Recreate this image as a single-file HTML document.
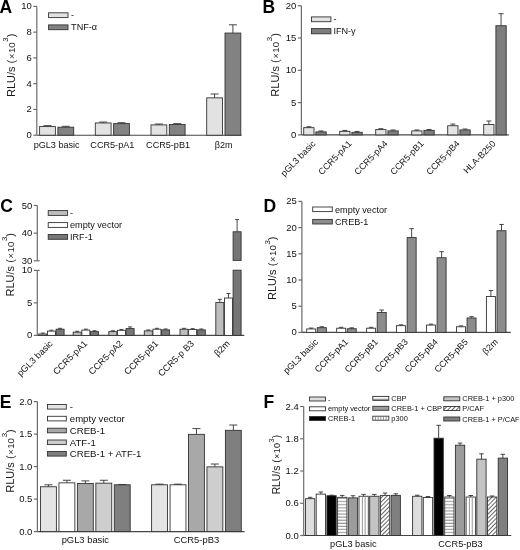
<!DOCTYPE html>
<html><head><meta charset="utf-8"><title>Figure</title>
<style>html,body{margin:0;padding:0;background:#fff;}body{width:520px;height:550px;overflow:hidden;font-family:"Liberation Sans", sans-serif;}</style>
</head><body>
<svg width="520" height="550" viewBox="0 0 520 550" style="display:block;will-change:transform;font-family:'Liberation Sans', sans-serif">
<defs>
<pattern id="hs" patternUnits="userSpaceOnUse" width="4" height="3.1"><rect width="4" height="3.1" fill="#fff"/><rect y="2.0" width="4" height="1.0" fill="#8a8a8a"/></pattern>
<pattern id="vs" patternUnits="userSpaceOnUse" width="3.4" height="4"><rect width="3.4" height="4" fill="#fff"/><rect x="2.6" width="0.9" height="4" fill="#888"/></pattern>
<pattern id="dh" patternUnits="userSpaceOnUse" width="3" height="3" patternTransform="rotate(45)"><rect width="3" height="3" fill="#fff"/><rect width="0.9" height="3" fill="#555"/></pattern>
</defs>
<rect width="520" height="550" fill="#fff"/>
<text x="-0.5" y="12.5" font-size="17.5" text-anchor="start" font-weight="bold" fill="#000">A</text>
<text x="15" y="65.3" font-size="11" text-anchor="middle" fill="#1a1a1a" transform="rotate(-90 15 65.3)">RLU/s (<tspan font-size="9.02" dx="0.77">&#215;</tspan><tspan font-size="9.68" dx="0.66">10</tspan><tspan font-size="7.92" dx="0.66" dy="-6.6">3</tspan><tspan dy="6.6">)</tspan></text>
<line x1="36.8" y1="6.4" x2="36.8" y2="135.2" stroke="#6c6c6c" stroke-width="1.2"/>
<line x1="33.3" y1="135.2" x2="36.8" y2="135.2" stroke="#6c6c6c" stroke-width="1.2"/>
<text x="31.8" y="138.24" font-size="9.5" text-anchor="end" font-weight="normal" fill="#111">0</text>
<line x1="33.3" y1="109.44" x2="36.8" y2="109.44" stroke="#6c6c6c" stroke-width="1.2"/>
<text x="31.8" y="112.48" font-size="9.5" text-anchor="end" font-weight="normal" fill="#111">2</text>
<line x1="33.3" y1="83.68" x2="36.8" y2="83.68" stroke="#6c6c6c" stroke-width="1.2"/>
<text x="31.8" y="86.72" font-size="9.5" text-anchor="end" font-weight="normal" fill="#111">4</text>
<line x1="33.3" y1="57.92" x2="36.8" y2="57.92" stroke="#6c6c6c" stroke-width="1.2"/>
<text x="31.8" y="60.96" font-size="9.5" text-anchor="end" font-weight="normal" fill="#111">6</text>
<line x1="33.3" y1="32.16" x2="36.8" y2="32.16" stroke="#6c6c6c" stroke-width="1.2"/>
<text x="31.8" y="35.2" font-size="9.5" text-anchor="end" font-weight="normal" fill="#111">8</text>
<line x1="33.3" y1="6.4" x2="36.8" y2="6.4" stroke="#6c6c6c" stroke-width="1.2"/>
<text x="31.8" y="9.44" font-size="9.5" text-anchor="end" font-weight="normal" fill="#111">10</text>
<line x1="36.8" y1="135.2" x2="241.6" y2="135.2" stroke="#484848" stroke-width="1.1"/>
<rect x="39.6" y="126.57" width="15.8" height="8.63" fill="#e2e2e2" stroke="#333" stroke-width="0.9"/>
<line x1="47.5" y1="126.57" x2="47.5" y2="125.67" stroke="#333" stroke-width="0.9"/>
<line x1="43.5" y1="125.67" x2="51.5" y2="125.67" stroke="#333" stroke-width="0.9"/>
<rect x="57.9" y="127.21" width="15.8" height="7.99" fill="#828282" stroke="#333" stroke-width="0.9"/>
<line x1="65.8" y1="127.21" x2="65.8" y2="126.31" stroke="#333" stroke-width="0.9"/>
<line x1="61.8" y1="126.31" x2="69.8" y2="126.31" stroke="#333" stroke-width="0.9"/>
<text x="56.65" y="147.5" font-size="9.1" text-anchor="middle" font-weight="normal" fill="#111">pGL3 basic</text>
<rect x="95.3" y="122.96" width="15.8" height="12.24" fill="#e2e2e2" stroke="#333" stroke-width="0.9"/>
<line x1="103.2" y1="122.96" x2="103.2" y2="122.06" stroke="#333" stroke-width="0.9"/>
<line x1="99.2" y1="122.06" x2="107.2" y2="122.06" stroke="#333" stroke-width="0.9"/>
<rect x="113.6" y="123.61" width="15.8" height="11.59" fill="#828282" stroke="#333" stroke-width="0.9"/>
<line x1="121.5" y1="123.61" x2="121.5" y2="122.71" stroke="#333" stroke-width="0.9"/>
<line x1="117.5" y1="122.71" x2="125.5" y2="122.71" stroke="#333" stroke-width="0.9"/>
<text x="112.35" y="147.5" font-size="9.1" text-anchor="middle" font-weight="normal" fill="#111">CCR5-pA1</text>
<rect x="151" y="124.9" width="15.8" height="10.3" fill="#e2e2e2" stroke="#333" stroke-width="0.9"/>
<line x1="158.9" y1="124.9" x2="158.9" y2="124" stroke="#333" stroke-width="0.9"/>
<line x1="154.9" y1="124" x2="162.9" y2="124" stroke="#333" stroke-width="0.9"/>
<rect x="169.3" y="124.51" width="15.8" height="10.69" fill="#828282" stroke="#333" stroke-width="0.9"/>
<line x1="177.2" y1="124.51" x2="177.2" y2="123.61" stroke="#333" stroke-width="0.9"/>
<line x1="173.2" y1="123.61" x2="181.2" y2="123.61" stroke="#333" stroke-width="0.9"/>
<text x="168.05" y="147.5" font-size="9.1" text-anchor="middle" font-weight="normal" fill="#111">CCR5-pB1</text>
<rect x="206.7" y="97.85" width="15.8" height="37.35" fill="#e2e2e2" stroke="#333" stroke-width="0.9"/>
<line x1="214.6" y1="97.85" x2="214.6" y2="93.98" stroke="#333" stroke-width="0.9"/>
<line x1="210.6" y1="93.98" x2="218.6" y2="93.98" stroke="#333" stroke-width="0.9"/>
<rect x="225" y="33.06" width="15.8" height="102.14" fill="#828282" stroke="#333" stroke-width="0.9"/>
<line x1="232.9" y1="33.06" x2="232.9" y2="24.82" stroke="#333" stroke-width="0.9"/>
<line x1="228.9" y1="24.82" x2="236.9" y2="24.82" stroke="#333" stroke-width="0.9"/>
<text x="223.75" y="147.5" font-size="9.1" text-anchor="middle" font-weight="normal" fill="#111">&#946;2m</text>
<rect x="48.6" y="12.8" width="19.4" height="4.8" fill="#e2e2e2" stroke="#333" stroke-width="0.9"/>
<rect x="48.6" y="24.9" width="19.4" height="4.8" fill="#828282" stroke="#333" stroke-width="0.9"/>
<text x="71.1" y="18.2" font-size="9.1" text-anchor="start" font-weight="normal" fill="#111">-</text>
<text x="71.1" y="29.9" font-size="9.1" text-anchor="start" font-weight="normal" fill="#111">TNF-&#945;</text>
<text x="262.5" y="12.7" font-size="17.5" text-anchor="start" font-weight="bold" fill="#000">B</text>
<text x="279" y="64.9" font-size="11" text-anchor="middle" fill="#1a1a1a" transform="rotate(-90 279 64.9)">RLU/s (<tspan font-size="9.02" dx="0.77">&#215;</tspan><tspan font-size="9.68" dx="0.66">10</tspan><tspan font-size="7.92" dx="0.66" dy="-6.6">3</tspan><tspan dy="6.6">)</tspan></text>
<line x1="301.4" y1="5.7" x2="301.4" y2="134.9" stroke="#6c6c6c" stroke-width="1.2"/>
<line x1="297.9" y1="134.9" x2="301.4" y2="134.9" stroke="#6c6c6c" stroke-width="1.2"/>
<text x="296.4" y="137.94" font-size="9.5" text-anchor="end" font-weight="normal" fill="#111">0</text>
<line x1="297.9" y1="102.6" x2="301.4" y2="102.6" stroke="#6c6c6c" stroke-width="1.2"/>
<text x="296.4" y="105.64" font-size="9.5" text-anchor="end" font-weight="normal" fill="#111">5</text>
<line x1="297.9" y1="70.3" x2="301.4" y2="70.3" stroke="#6c6c6c" stroke-width="1.2"/>
<text x="296.4" y="73.34" font-size="9.5" text-anchor="end" font-weight="normal" fill="#111">10</text>
<line x1="297.9" y1="38" x2="301.4" y2="38" stroke="#6c6c6c" stroke-width="1.2"/>
<text x="296.4" y="41.04" font-size="9.5" text-anchor="end" font-weight="normal" fill="#111">15</text>
<line x1="297.9" y1="5.7" x2="301.4" y2="5.7" stroke="#6c6c6c" stroke-width="1.2"/>
<text x="296.4" y="8.74" font-size="9.5" text-anchor="end" font-weight="normal" fill="#111">20</text>
<line x1="301.4" y1="134.9" x2="508.8" y2="134.9" stroke="#484848" stroke-width="1.1"/>
<rect x="303.7" y="127.66" width="10.3" height="7.24" fill="#e4e4e4" stroke="#333" stroke-width="0.9"/>
<line x1="308.85" y1="127.66" x2="308.85" y2="126.76" stroke="#333" stroke-width="0.9"/>
<line x1="306.35" y1="126.76" x2="311.35" y2="126.76" stroke="#333" stroke-width="0.9"/>
<rect x="315.9" y="131.86" width="10.3" height="3.04" fill="#7e7e7e" stroke="#333" stroke-width="0.9"/>
<line x1="321.05" y1="131.86" x2="321.05" y2="130.96" stroke="#333" stroke-width="0.9"/>
<line x1="318.55" y1="130.96" x2="323.55" y2="130.96" stroke="#333" stroke-width="0.9"/>
<text x="316.15" y="144.2" font-size="9" text-anchor="end" font-weight="normal" fill="#111" transform="rotate(-46 316.15 144.2)">pGL3 basic</text>
<rect x="339.7" y="131.35" width="10.3" height="3.55" fill="#e4e4e4" stroke="#333" stroke-width="0.9"/>
<line x1="344.85" y1="131.35" x2="344.85" y2="130.45" stroke="#333" stroke-width="0.9"/>
<line x1="342.35" y1="130.45" x2="347.35" y2="130.45" stroke="#333" stroke-width="0.9"/>
<rect x="351.9" y="132.32" width="10.3" height="2.58" fill="#7e7e7e" stroke="#333" stroke-width="0.9"/>
<line x1="357.05" y1="132.32" x2="357.05" y2="131.42" stroke="#333" stroke-width="0.9"/>
<line x1="354.55" y1="131.42" x2="359.55" y2="131.42" stroke="#333" stroke-width="0.9"/>
<text x="352.15" y="144.2" font-size="9" text-anchor="end" font-weight="normal" fill="#111" transform="rotate(-46 352.15 144.2)">CCR5-pA1</text>
<rect x="375.7" y="129.6" width="10.3" height="5.3" fill="#e4e4e4" stroke="#333" stroke-width="0.9"/>
<line x1="380.85" y1="129.6" x2="380.85" y2="128.7" stroke="#333" stroke-width="0.9"/>
<line x1="378.35" y1="128.7" x2="383.35" y2="128.7" stroke="#333" stroke-width="0.9"/>
<rect x="387.9" y="130.89" width="10.3" height="4.01" fill="#7e7e7e" stroke="#333" stroke-width="0.9"/>
<line x1="393.05" y1="130.89" x2="393.05" y2="129.99" stroke="#333" stroke-width="0.9"/>
<line x1="390.55" y1="129.99" x2="395.55" y2="129.99" stroke="#333" stroke-width="0.9"/>
<text x="388.15" y="144.2" font-size="9" text-anchor="end" font-weight="normal" fill="#111" transform="rotate(-46 388.15 144.2)">CCR5-pA4</text>
<rect x="411.7" y="130.89" width="10.3" height="4.01" fill="#e4e4e4" stroke="#333" stroke-width="0.9"/>
<line x1="416.85" y1="130.89" x2="416.85" y2="129.99" stroke="#333" stroke-width="0.9"/>
<line x1="414.35" y1="129.99" x2="419.35" y2="129.99" stroke="#333" stroke-width="0.9"/>
<rect x="423.9" y="130.38" width="10.3" height="4.52" fill="#7e7e7e" stroke="#333" stroke-width="0.9"/>
<line x1="429.05" y1="130.38" x2="429.05" y2="129.48" stroke="#333" stroke-width="0.9"/>
<line x1="426.55" y1="129.48" x2="431.55" y2="129.48" stroke="#333" stroke-width="0.9"/>
<text x="424.15" y="144.2" font-size="9" text-anchor="end" font-weight="normal" fill="#111" transform="rotate(-46 424.15 144.2)">CCR5-pB1</text>
<rect x="447.7" y="125.73" width="10.3" height="9.17" fill="#e4e4e4" stroke="#333" stroke-width="0.9"/>
<line x1="452.85" y1="125.73" x2="452.85" y2="124.05" stroke="#333" stroke-width="0.9"/>
<line x1="450.35" y1="124.05" x2="455.35" y2="124.05" stroke="#333" stroke-width="0.9"/>
<rect x="459.9" y="129.93" width="10.3" height="4.97" fill="#7e7e7e" stroke="#333" stroke-width="0.9"/>
<line x1="465.05" y1="129.93" x2="465.05" y2="129.03" stroke="#333" stroke-width="0.9"/>
<line x1="462.55" y1="129.03" x2="467.55" y2="129.03" stroke="#333" stroke-width="0.9"/>
<text x="460.15" y="144.2" font-size="9" text-anchor="end" font-weight="normal" fill="#111" transform="rotate(-46 460.15 144.2)">CCR5-pB4</text>
<rect x="483.7" y="124.56" width="10.3" height="10.34" fill="#e4e4e4" stroke="#333" stroke-width="0.9"/>
<line x1="488.85" y1="124.56" x2="488.85" y2="121.01" stroke="#333" stroke-width="0.9"/>
<line x1="486.35" y1="121.01" x2="491.35" y2="121.01" stroke="#333" stroke-width="0.9"/>
<rect x="495.9" y="25.73" width="10.3" height="109.17" fill="#7e7e7e" stroke="#333" stroke-width="0.9"/>
<line x1="501.05" y1="25.73" x2="501.05" y2="13.71" stroke="#333" stroke-width="0.9"/>
<line x1="498.55" y1="13.71" x2="503.55" y2="13.71" stroke="#333" stroke-width="0.9"/>
<text x="496.15" y="144.2" font-size="9" text-anchor="end" font-weight="normal" fill="#111" transform="rotate(-46 496.15 144.2)">HLA-B250</text>
<rect x="311.5" y="16.9" width="19.4" height="4.8" fill="#e4e4e4" stroke="#333" stroke-width="0.9"/>
<rect x="311.5" y="28.6" width="19.4" height="5.2" fill="#7e7e7e" stroke="#333" stroke-width="0.9"/>
<text x="333.4" y="21.8" font-size="9.1" text-anchor="start" font-weight="normal" fill="#111">-</text>
<text x="333.4" y="33.9" font-size="9.1" text-anchor="start" font-weight="normal" fill="#111">IFN-&#947;</text>
<text x="0.3" y="211.8" font-size="17.5" text-anchor="start" font-weight="bold" fill="#000">C</text>
<text x="13.8" y="264.7" font-size="11" text-anchor="middle" fill="#1a1a1a" transform="rotate(-90 13.8 264.7)">RLU/s (<tspan font-size="9.02" dx="0.77">&#215;</tspan><tspan font-size="9.68" dx="0.66">10</tspan><tspan font-size="7.92" dx="0.66" dy="-6.6">3</tspan><tspan dy="6.6">)</tspan></text>
<line x1="37.3" y1="205.5" x2="37.3" y2="260.8" stroke="#6c6c6c" stroke-width="1.2"/>
<line x1="33.8" y1="260.8" x2="37.3" y2="260.8" stroke="#6c6c6c" stroke-width="1.2"/>
<text x="32.3" y="263.84" font-size="9.5" text-anchor="end" font-weight="normal" fill="#111">30</text>
<line x1="33.8" y1="233.15" x2="37.3" y2="233.15" stroke="#6c6c6c" stroke-width="1.2"/>
<text x="32.3" y="236.19" font-size="9.5" text-anchor="end" font-weight="normal" fill="#111">40</text>
<line x1="33.8" y1="205.5" x2="37.3" y2="205.5" stroke="#6c6c6c" stroke-width="1.2"/>
<text x="32.3" y="208.54" font-size="9.5" text-anchor="end" font-weight="normal" fill="#111">50</text>
<line x1="37.3" y1="270.4" x2="37.3" y2="335.4" stroke="#6c6c6c" stroke-width="1.2"/>
<line x1="33.8" y1="335.4" x2="37.3" y2="335.4" stroke="#6c6c6c" stroke-width="1.2"/>
<text x="32.3" y="338.44" font-size="9.5" text-anchor="end" font-weight="normal" fill="#111">0</text>
<line x1="33.8" y1="302.9" x2="37.3" y2="302.9" stroke="#6c6c6c" stroke-width="1.2"/>
<text x="32.3" y="305.94" font-size="9.5" text-anchor="end" font-weight="normal" fill="#111">5</text>
<line x1="33.8" y1="270.4" x2="37.3" y2="270.4" stroke="#6c6c6c" stroke-width="1.2"/>
<text x="32.3" y="273.44" font-size="9.5" text-anchor="end" font-weight="normal" fill="#111">10</text>
<line x1="37.3" y1="335.4" x2="244.3" y2="335.4" stroke="#484848" stroke-width="1.1"/>
<line x1="37.3" y1="260.8" x2="39.7" y2="260.8" stroke="#6c6c6c" stroke-width="1.2"/>
<line x1="37.3" y1="270.4" x2="39.7" y2="270.4" stroke="#6c6c6c" stroke-width="1.2"/>
<rect x="38.8" y="333.97" width="8" height="1.43" fill="#bebebe" stroke="#333" stroke-width="0.9"/>
<line x1="42.8" y1="333.97" x2="42.8" y2="333.07" stroke="#333" stroke-width="0.9"/>
<line x1="40.8" y1="333.07" x2="44.8" y2="333.07" stroke="#333" stroke-width="0.9"/>
<rect x="47.45" y="331.11" width="8" height="4.29" fill="#ffffff" stroke="#333" stroke-width="0.9"/>
<line x1="51.45" y1="331.11" x2="51.45" y2="330.21" stroke="#333" stroke-width="0.9"/>
<line x1="49.45" y1="330.21" x2="53.45" y2="330.21" stroke="#333" stroke-width="0.9"/>
<rect x="56.1" y="329.22" width="8" height="6.18" fill="#767676" stroke="#333" stroke-width="0.9"/>
<line x1="60.1" y1="329.22" x2="60.1" y2="328.32" stroke="#333" stroke-width="0.9"/>
<line x1="58.1" y1="328.32" x2="62.1" y2="328.32" stroke="#333" stroke-width="0.9"/>
<text x="53.35" y="344.2" font-size="9.1" text-anchor="end" font-weight="normal" fill="#111" transform="rotate(-45 53.35 344.2)">pGL3 basic</text>
<rect x="73.2" y="332.15" width="8" height="3.25" fill="#bebebe" stroke="#333" stroke-width="0.9"/>
<line x1="77.2" y1="332.15" x2="77.2" y2="331.25" stroke="#333" stroke-width="0.9"/>
<line x1="75.2" y1="331.25" x2="79.2" y2="331.25" stroke="#333" stroke-width="0.9"/>
<rect x="81.85" y="330.07" width="8" height="5.33" fill="#ffffff" stroke="#333" stroke-width="0.9"/>
<line x1="85.85" y1="330.07" x2="85.85" y2="329.17" stroke="#333" stroke-width="0.9"/>
<line x1="83.85" y1="329.17" x2="87.85" y2="329.17" stroke="#333" stroke-width="0.9"/>
<rect x="90.5" y="331.63" width="8" height="3.77" fill="#767676" stroke="#333" stroke-width="0.9"/>
<line x1="94.5" y1="331.63" x2="94.5" y2="330.73" stroke="#333" stroke-width="0.9"/>
<line x1="92.5" y1="330.73" x2="96.5" y2="330.73" stroke="#333" stroke-width="0.9"/>
<text x="87.75" y="344.2" font-size="9.1" text-anchor="end" font-weight="normal" fill="#111" transform="rotate(-45 87.75 344.2)">CCR5-pA1</text>
<rect x="108.8" y="331.63" width="8" height="3.77" fill="#bebebe" stroke="#333" stroke-width="0.9"/>
<line x1="112.8" y1="331.63" x2="112.8" y2="330.73" stroke="#333" stroke-width="0.9"/>
<line x1="110.8" y1="330.73" x2="114.8" y2="330.73" stroke="#333" stroke-width="0.9"/>
<rect x="117.45" y="330.33" width="8" height="5.07" fill="#ffffff" stroke="#333" stroke-width="0.9"/>
<line x1="121.45" y1="330.33" x2="121.45" y2="329.43" stroke="#333" stroke-width="0.9"/>
<line x1="119.45" y1="329.43" x2="123.45" y2="329.43" stroke="#333" stroke-width="0.9"/>
<rect x="126.1" y="328.57" width="8" height="6.82" fill="#767676" stroke="#333" stroke-width="0.9"/>
<line x1="130.1" y1="328.57" x2="130.1" y2="326.95" stroke="#333" stroke-width="0.9"/>
<line x1="128.1" y1="326.95" x2="132.1" y2="326.95" stroke="#333" stroke-width="0.9"/>
<text x="123.35" y="344.2" font-size="9.1" text-anchor="end" font-weight="normal" fill="#111" transform="rotate(-45 123.35 344.2)">CCR5-pA2</text>
<rect x="144.3" y="330.85" width="8" height="4.55" fill="#bebebe" stroke="#333" stroke-width="0.9"/>
<line x1="148.3" y1="330.85" x2="148.3" y2="329.95" stroke="#333" stroke-width="0.9"/>
<line x1="146.3" y1="329.95" x2="150.3" y2="329.95" stroke="#333" stroke-width="0.9"/>
<rect x="152.95" y="329.22" width="8" height="6.18" fill="#ffffff" stroke="#333" stroke-width="0.9"/>
<line x1="156.95" y1="329.22" x2="156.95" y2="328.32" stroke="#333" stroke-width="0.9"/>
<line x1="154.95" y1="328.32" x2="158.95" y2="328.32" stroke="#333" stroke-width="0.9"/>
<rect x="161.6" y="329.88" width="8" height="5.52" fill="#767676" stroke="#333" stroke-width="0.9"/>
<line x1="165.6" y1="329.88" x2="165.6" y2="328.98" stroke="#333" stroke-width="0.9"/>
<line x1="163.6" y1="328.98" x2="167.6" y2="328.98" stroke="#333" stroke-width="0.9"/>
<text x="158.85" y="344.2" font-size="9.1" text-anchor="end" font-weight="normal" fill="#111" transform="rotate(-45 158.85 344.2)">CCR5-pB1</text>
<rect x="180" y="329.22" width="8" height="6.18" fill="#bebebe" stroke="#333" stroke-width="0.9"/>
<line x1="184" y1="329.22" x2="184" y2="328.32" stroke="#333" stroke-width="0.9"/>
<line x1="182" y1="328.32" x2="186" y2="328.32" stroke="#333" stroke-width="0.9"/>
<rect x="188.65" y="329.55" width="8" height="5.85" fill="#ffffff" stroke="#333" stroke-width="0.9"/>
<line x1="192.65" y1="329.55" x2="192.65" y2="328.65" stroke="#333" stroke-width="0.9"/>
<line x1="190.65" y1="328.65" x2="194.65" y2="328.65" stroke="#333" stroke-width="0.9"/>
<rect x="197.3" y="329.88" width="8" height="5.52" fill="#767676" stroke="#333" stroke-width="0.9"/>
<line x1="201.3" y1="329.88" x2="201.3" y2="328.98" stroke="#333" stroke-width="0.9"/>
<line x1="199.3" y1="328.98" x2="203.3" y2="328.98" stroke="#333" stroke-width="0.9"/>
<text x="194.55" y="344.2" font-size="9.1" text-anchor="end" font-weight="normal" fill="#111" transform="rotate(-45 194.55 344.2)">CCR5-p B3</text>
<rect x="215.8" y="302.57" width="8" height="32.82" fill="#bebebe" stroke="#333" stroke-width="0.9"/>
<line x1="219.8" y1="302.57" x2="219.8" y2="299.32" stroke="#333" stroke-width="0.9"/>
<line x1="217.8" y1="299.32" x2="221.8" y2="299.32" stroke="#333" stroke-width="0.9"/>
<rect x="224.45" y="298.02" width="8" height="37.38" fill="#ffffff" stroke="#333" stroke-width="0.9"/>
<line x1="228.45" y1="298.02" x2="228.45" y2="293.47" stroke="#333" stroke-width="0.9"/>
<line x1="226.45" y1="293.47" x2="230.45" y2="293.47" stroke="#333" stroke-width="0.9"/>
<text x="230.35" y="344.2" font-size="9.1" text-anchor="end" font-weight="normal" fill="#111" transform="rotate(-45 230.35 344.2)">&#946;2m</text>
<rect x="233.1" y="231.77" width="8" height="28.63" fill="#767676" stroke="#333" stroke-width="0.9"/>
<rect x="233.1" y="270.2" width="8" height="65.2" fill="#767676" stroke="#333" stroke-width="0.9"/>
<line x1="237.1" y1="231.77" x2="237.1" y2="219.6" stroke="#333" stroke-width="0.9"/>
<line x1="235.1" y1="219.6" x2="239.1" y2="219.6" stroke="#333" stroke-width="0.9"/>
<rect x="48.2" y="210.6" width="19.4" height="4.8" fill="#bebebe" stroke="#333" stroke-width="0.9"/>
<rect x="48.2" y="222.6" width="19.4" height="4.8" fill="#ffffff" stroke="#333" stroke-width="0.9"/>
<rect x="48.2" y="234.5" width="19.4" height="4.8" fill="#767676" stroke="#333" stroke-width="0.9"/>
<text x="70" y="216.2" font-size="9.1" text-anchor="start" font-weight="normal" fill="#111">-</text>
<text x="70" y="228" font-size="9.1" text-anchor="start" font-weight="normal" fill="#111">empty vector</text>
<text x="70" y="239.8" font-size="9.1" text-anchor="start" font-weight="normal" fill="#111">IRF-1</text>
<text x="263.5" y="211.5" font-size="17.5" text-anchor="start" font-weight="bold" fill="#000">D</text>
<text x="276.2" y="268.2" font-size="11" text-anchor="middle" fill="#1a1a1a" transform="rotate(-90 276.2 268.2)">RLU/s (<tspan font-size="9.02" dx="0.77">&#215;</tspan><tspan font-size="9.68" dx="0.66">10</tspan><tspan font-size="7.92" dx="0.66" dy="-6.6">3</tspan><tspan dy="6.6">)</tspan></text>
<line x1="301.9" y1="201.4" x2="301.9" y2="332.4" stroke="#6c6c6c" stroke-width="1.2"/>
<line x1="298.4" y1="332.4" x2="301.9" y2="332.4" stroke="#6c6c6c" stroke-width="1.2"/>
<text x="296.9" y="335.44" font-size="9.5" text-anchor="end" font-weight="normal" fill="#111">0</text>
<line x1="298.4" y1="306.2" x2="301.9" y2="306.2" stroke="#6c6c6c" stroke-width="1.2"/>
<text x="296.9" y="309.24" font-size="9.5" text-anchor="end" font-weight="normal" fill="#111">5</text>
<line x1="298.4" y1="280" x2="301.9" y2="280" stroke="#6c6c6c" stroke-width="1.2"/>
<text x="296.9" y="283.04" font-size="9.5" text-anchor="end" font-weight="normal" fill="#111">10</text>
<line x1="298.4" y1="253.8" x2="301.9" y2="253.8" stroke="#6c6c6c" stroke-width="1.2"/>
<text x="296.9" y="256.84" font-size="9.5" text-anchor="end" font-weight="normal" fill="#111">15</text>
<line x1="298.4" y1="227.6" x2="301.9" y2="227.6" stroke="#6c6c6c" stroke-width="1.2"/>
<text x="296.9" y="230.64" font-size="9.5" text-anchor="end" font-weight="normal" fill="#111">20</text>
<line x1="298.4" y1="201.4" x2="301.9" y2="201.4" stroke="#6c6c6c" stroke-width="1.2"/>
<text x="296.9" y="204.44" font-size="9.5" text-anchor="end" font-weight="normal" fill="#111">25</text>
<line x1="301.9" y1="332.4" x2="510.8" y2="332.4" stroke="#484848" stroke-width="1.1"/>
<rect x="306.7" y="328.94" width="9" height="3.46" fill="#ffffff" stroke="#333" stroke-width="0.9"/>
<line x1="311.2" y1="328.94" x2="311.2" y2="328.04" stroke="#333" stroke-width="0.9"/>
<line x1="308.95" y1="328.04" x2="313.45" y2="328.04" stroke="#333" stroke-width="0.9"/>
<rect x="317.3" y="327.68" width="9" height="4.72" fill="#8c8c8c" stroke="#333" stroke-width="0.9"/>
<line x1="321.8" y1="327.68" x2="321.8" y2="326.78" stroke="#333" stroke-width="0.9"/>
<line x1="319.55" y1="326.78" x2="324.05" y2="326.78" stroke="#333" stroke-width="0.9"/>
<text x="318.7" y="342.6" font-size="8.9" text-anchor="end" font-weight="normal" fill="#111" transform="rotate(-45 318.7 342.6)">pGL3 basic</text>
<rect x="336.65" y="328.21" width="9" height="4.19" fill="#ffffff" stroke="#333" stroke-width="0.9"/>
<line x1="341.15" y1="328.21" x2="341.15" y2="327.31" stroke="#333" stroke-width="0.9"/>
<line x1="338.9" y1="327.31" x2="343.4" y2="327.31" stroke="#333" stroke-width="0.9"/>
<rect x="347.25" y="328.73" width="9" height="3.67" fill="#8c8c8c" stroke="#333" stroke-width="0.9"/>
<line x1="351.75" y1="328.73" x2="351.75" y2="327.83" stroke="#333" stroke-width="0.9"/>
<line x1="349.5" y1="327.83" x2="354" y2="327.83" stroke="#333" stroke-width="0.9"/>
<text x="348.65" y="342.6" font-size="8.9" text-anchor="end" font-weight="normal" fill="#111" transform="rotate(-45 348.65 342.6)">CCR5-pA1</text>
<rect x="366.6" y="328.21" width="9" height="4.19" fill="#ffffff" stroke="#333" stroke-width="0.9"/>
<line x1="371.1" y1="328.21" x2="371.1" y2="327.31" stroke="#333" stroke-width="0.9"/>
<line x1="368.85" y1="327.31" x2="373.35" y2="327.31" stroke="#333" stroke-width="0.9"/>
<rect x="377.2" y="312.49" width="9" height="19.91" fill="#8c8c8c" stroke="#333" stroke-width="0.9"/>
<line x1="381.7" y1="312.49" x2="381.7" y2="310.03" stroke="#333" stroke-width="0.9"/>
<line x1="379.45" y1="310.03" x2="383.95" y2="310.03" stroke="#333" stroke-width="0.9"/>
<text x="378.6" y="342.6" font-size="8.9" text-anchor="end" font-weight="normal" fill="#111" transform="rotate(-45 378.6 342.6)">CCR5-pB1</text>
<rect x="396.55" y="325.69" width="9" height="6.71" fill="#ffffff" stroke="#333" stroke-width="0.9"/>
<line x1="401.05" y1="325.69" x2="401.05" y2="324.79" stroke="#333" stroke-width="0.9"/>
<line x1="398.8" y1="324.79" x2="403.3" y2="324.79" stroke="#333" stroke-width="0.9"/>
<rect x="407.15" y="237.56" width="9" height="94.84" fill="#8c8c8c" stroke="#333" stroke-width="0.9"/>
<line x1="411.65" y1="237.56" x2="411.65" y2="228.65" stroke="#333" stroke-width="0.9"/>
<line x1="409.4" y1="228.65" x2="413.9" y2="228.65" stroke="#333" stroke-width="0.9"/>
<text x="408.55" y="342.6" font-size="8.9" text-anchor="end" font-weight="normal" fill="#111" transform="rotate(-45 408.55 342.6)">CCR5-pB3</text>
<rect x="426.5" y="325.06" width="9" height="7.34" fill="#ffffff" stroke="#333" stroke-width="0.9"/>
<line x1="431" y1="325.06" x2="431" y2="324.16" stroke="#333" stroke-width="0.9"/>
<line x1="428.75" y1="324.16" x2="433.25" y2="324.16" stroke="#333" stroke-width="0.9"/>
<rect x="437.1" y="257.73" width="9" height="74.67" fill="#8c8c8c" stroke="#333" stroke-width="0.9"/>
<line x1="441.6" y1="257.73" x2="441.6" y2="251.7" stroke="#333" stroke-width="0.9"/>
<line x1="439.35" y1="251.7" x2="443.85" y2="251.7" stroke="#333" stroke-width="0.9"/>
<text x="438.5" y="342.6" font-size="8.9" text-anchor="end" font-weight="normal" fill="#111" transform="rotate(-45 438.5 342.6)">CCR5-pB4</text>
<rect x="456.45" y="326.79" width="9" height="5.61" fill="#ffffff" stroke="#333" stroke-width="0.9"/>
<line x1="460.95" y1="326.79" x2="460.95" y2="325.89" stroke="#333" stroke-width="0.9"/>
<line x1="458.7" y1="325.89" x2="463.2" y2="325.89" stroke="#333" stroke-width="0.9"/>
<rect x="467.05" y="317.99" width="9" height="14.41" fill="#8c8c8c" stroke="#333" stroke-width="0.9"/>
<line x1="471.55" y1="317.99" x2="471.55" y2="316.68" stroke="#333" stroke-width="0.9"/>
<line x1="469.3" y1="316.68" x2="473.8" y2="316.68" stroke="#333" stroke-width="0.9"/>
<text x="468.45" y="342.6" font-size="8.9" text-anchor="end" font-weight="normal" fill="#111" transform="rotate(-45 468.45 342.6)">CCR5-pB5</text>
<rect x="486.4" y="296.51" width="9" height="35.89" fill="#ffffff" stroke="#333" stroke-width="0.9"/>
<line x1="490.9" y1="296.51" x2="490.9" y2="290.48" stroke="#333" stroke-width="0.9"/>
<line x1="488.65" y1="290.48" x2="493.15" y2="290.48" stroke="#333" stroke-width="0.9"/>
<rect x="497" y="230.74" width="9" height="101.66" fill="#8c8c8c" stroke="#333" stroke-width="0.9"/>
<line x1="501.5" y1="230.74" x2="501.5" y2="224.46" stroke="#333" stroke-width="0.9"/>
<line x1="499.25" y1="224.46" x2="503.75" y2="224.46" stroke="#333" stroke-width="0.9"/>
<text x="498.4" y="342.6" font-size="8.9" text-anchor="end" font-weight="normal" fill="#111" transform="rotate(-45 498.4 342.6)">&#946;2m</text>
<rect x="312.7" y="207" width="19.6" height="4.6" fill="#ffffff" stroke="#333" stroke-width="0.9"/>
<rect x="312.7" y="219.4" width="19.6" height="4.6" fill="#8c8c8c" stroke="#333" stroke-width="0.9"/>
<text x="335" y="212.5" font-size="9.1" text-anchor="start" font-weight="normal" fill="#111">empty vector</text>
<text x="335" y="224.6" font-size="9.1" text-anchor="start" font-weight="normal" fill="#111">CREB-1</text>
<text x="-0.2" y="407.8" font-size="17.5" text-anchor="start" font-weight="bold" fill="#000">E</text>
<text x="13.7" y="461" font-size="11" text-anchor="middle" fill="#1a1a1a" transform="rotate(-90 13.7 461)">RLU/s (<tspan font-size="9.02" dx="0.77">&#215;</tspan><tspan font-size="9.68" dx="0.66">10</tspan><tspan font-size="7.92" dx="0.66" dy="-6.6">3</tspan><tspan dy="6.6">)</tspan></text>
<line x1="37.4" y1="401.6" x2="37.4" y2="531.6" stroke="#6c6c6c" stroke-width="1.2"/>
<line x1="33.9" y1="531.6" x2="37.4" y2="531.6" stroke="#6c6c6c" stroke-width="1.2"/>
<text x="32.4" y="534.64" font-size="9.5" text-anchor="end" font-weight="normal" fill="#111">0.0</text>
<line x1="33.9" y1="499.1" x2="37.4" y2="499.1" stroke="#6c6c6c" stroke-width="1.2"/>
<text x="32.4" y="502.14" font-size="9.5" text-anchor="end" font-weight="normal" fill="#111">0.5</text>
<line x1="33.9" y1="466.6" x2="37.4" y2="466.6" stroke="#6c6c6c" stroke-width="1.2"/>
<text x="32.4" y="469.64" font-size="9.5" text-anchor="end" font-weight="normal" fill="#111">1.0</text>
<line x1="33.9" y1="434.1" x2="37.4" y2="434.1" stroke="#6c6c6c" stroke-width="1.2"/>
<text x="32.4" y="437.14" font-size="9.5" text-anchor="end" font-weight="normal" fill="#111">1.5</text>
<line x1="33.9" y1="401.6" x2="37.4" y2="401.6" stroke="#6c6c6c" stroke-width="1.2"/>
<text x="32.4" y="404.64" font-size="9.5" text-anchor="end" font-weight="normal" fill="#111">2.0</text>
<line x1="37.4" y1="531.6" x2="244.6" y2="531.6" stroke="#484848" stroke-width="1.1"/>
<rect x="40.5" y="486.75" width="15.9" height="44.85" fill="#e4e4e4" stroke="#333" stroke-width="0.9"/>
<line x1="48.45" y1="486.75" x2="48.45" y2="484.8" stroke="#333" stroke-width="0.9"/>
<line x1="44.45" y1="484.8" x2="52.45" y2="484.8" stroke="#333" stroke-width="0.9"/>
<rect x="58.95" y="482.85" width="15.9" height="48.75" fill="#ffffff" stroke="#333" stroke-width="0.9"/>
<line x1="66.9" y1="482.85" x2="66.9" y2="480.25" stroke="#333" stroke-width="0.9"/>
<line x1="62.9" y1="480.25" x2="70.9" y2="480.25" stroke="#333" stroke-width="0.9"/>
<rect x="77.4" y="483.5" width="15.9" height="48.1" fill="#a8a8a8" stroke="#333" stroke-width="0.9"/>
<line x1="85.35" y1="483.5" x2="85.35" y2="480.9" stroke="#333" stroke-width="0.9"/>
<line x1="81.35" y1="480.9" x2="89.35" y2="480.9" stroke="#333" stroke-width="0.9"/>
<rect x="95.85" y="483.18" width="15.9" height="48.43" fill="#cecece" stroke="#333" stroke-width="0.9"/>
<line x1="103.8" y1="483.18" x2="103.8" y2="480.25" stroke="#333" stroke-width="0.9"/>
<line x1="99.8" y1="480.25" x2="107.8" y2="480.25" stroke="#333" stroke-width="0.9"/>
<rect x="114.3" y="484.8" width="15.9" height="46.8" fill="#7f7f7f" stroke="#333" stroke-width="0.9"/>
<line x1="122.25" y1="484.8" x2="122.25" y2="484.48" stroke="#333" stroke-width="0.9"/>
<line x1="118.25" y1="484.48" x2="126.25" y2="484.48" stroke="#333" stroke-width="0.9"/>
<text x="85.35" y="543.3" font-size="9.4" text-anchor="middle" font-weight="normal" fill="#111">pGL3 basic</text>
<rect x="151.6" y="484.8" width="15.9" height="46.8" fill="#e4e4e4" stroke="#333" stroke-width="0.9"/>
<line x1="159.55" y1="484.8" x2="159.55" y2="484.15" stroke="#333" stroke-width="0.9"/>
<line x1="155.55" y1="484.15" x2="163.55" y2="484.15" stroke="#333" stroke-width="0.9"/>
<rect x="170.05" y="484.8" width="15.9" height="46.8" fill="#ffffff" stroke="#333" stroke-width="0.9"/>
<line x1="178" y1="484.8" x2="178" y2="484.15" stroke="#333" stroke-width="0.9"/>
<line x1="174" y1="484.15" x2="182" y2="484.15" stroke="#333" stroke-width="0.9"/>
<rect x="188.5" y="434.36" width="15.9" height="97.24" fill="#a8a8a8" stroke="#333" stroke-width="0.9"/>
<line x1="196.45" y1="434.36" x2="196.45" y2="428.58" stroke="#333" stroke-width="0.9"/>
<line x1="192.45" y1="428.58" x2="200.45" y2="428.58" stroke="#333" stroke-width="0.9"/>
<rect x="206.95" y="466.86" width="15.9" height="64.74" fill="#cecece" stroke="#333" stroke-width="0.9"/>
<line x1="214.9" y1="466.86" x2="214.9" y2="464" stroke="#333" stroke-width="0.9"/>
<line x1="210.9" y1="464" x2="218.9" y2="464" stroke="#333" stroke-width="0.9"/>
<rect x="225.4" y="430.33" width="15.9" height="101.27" fill="#7f7f7f" stroke="#333" stroke-width="0.9"/>
<line x1="233.35" y1="430.33" x2="233.35" y2="425" stroke="#333" stroke-width="0.9"/>
<line x1="229.35" y1="425" x2="237.35" y2="425" stroke="#333" stroke-width="0.9"/>
<text x="196.45" y="543.3" font-size="9.4" text-anchor="middle" font-weight="normal" fill="#111">CCR5-pB3</text>
<rect x="47.5" y="404.5" width="18.8" height="4.6" fill="#e4e4e4" stroke="#333" stroke-width="0.9"/>
<text x="69.8" y="410" font-size="9.6" text-anchor="start" font-weight="normal" fill="#111">-</text>
<rect x="47.5" y="416.3" width="18.8" height="4.6" fill="#ffffff" stroke="#333" stroke-width="0.9"/>
<text x="69.8" y="421.8" font-size="9.6" text-anchor="start" font-weight="normal" fill="#111">empty vector</text>
<rect x="47.5" y="428.2" width="18.8" height="4.6" fill="#a8a8a8" stroke="#333" stroke-width="0.9"/>
<text x="69.8" y="433.7" font-size="9.6" text-anchor="start" font-weight="normal" fill="#111">CREB-1</text>
<rect x="47.5" y="440" width="18.8" height="4.6" fill="#cecece" stroke="#333" stroke-width="0.9"/>
<text x="69.8" y="445.5" font-size="9.6" text-anchor="start" font-weight="normal" fill="#111">ATF-1</text>
<rect x="47.5" y="451.5" width="18.8" height="4.6" fill="#7f7f7f" stroke="#333" stroke-width="0.9"/>
<text x="69.8" y="457" font-size="9.6" text-anchor="start" font-weight="normal" fill="#111">CREB-1 + ATF-1</text>
<text x="263.6" y="407.8" font-size="17.5" text-anchor="start" font-weight="bold" fill="#000">F</text>
<text x="280.2" y="464.6" font-size="10.3" text-anchor="middle" fill="#1a1a1a" transform="rotate(-90 280.2 464.6)">RLU/s (<tspan font-size="8.45" dx="0.72">&#215;</tspan><tspan font-size="9.06" dx="0.62">10</tspan><tspan font-size="7.42" dx="0.62" dy="-6.18">3</tspan><tspan dy="6.18">)</tspan></text>
<line x1="303.7" y1="406.5" x2="303.7" y2="535.5" stroke="#6c6c6c" stroke-width="1.2"/>
<line x1="300.2" y1="535.5" x2="303.7" y2="535.5" stroke="#6c6c6c" stroke-width="1.2"/>
<text x="298.7" y="538.54" font-size="9.5" text-anchor="end" font-weight="normal" fill="#111">0.0</text>
<line x1="300.2" y1="503.25" x2="303.7" y2="503.25" stroke="#6c6c6c" stroke-width="1.2"/>
<text x="298.7" y="506.29" font-size="9.5" text-anchor="end" font-weight="normal" fill="#111">0.6</text>
<line x1="300.2" y1="471" x2="303.7" y2="471" stroke="#6c6c6c" stroke-width="1.2"/>
<text x="298.7" y="474.04" font-size="9.5" text-anchor="end" font-weight="normal" fill="#111">1.2</text>
<line x1="300.2" y1="438.75" x2="303.7" y2="438.75" stroke="#6c6c6c" stroke-width="1.2"/>
<text x="298.7" y="441.79" font-size="9.5" text-anchor="end" font-weight="normal" fill="#111">1.8</text>
<line x1="300.2" y1="406.5" x2="303.7" y2="406.5" stroke="#6c6c6c" stroke-width="1.2"/>
<text x="298.7" y="409.54" font-size="9.5" text-anchor="end" font-weight="normal" fill="#111">2.4</text>
<line x1="303.7" y1="535.5" x2="511.3" y2="535.5" stroke="#484848" stroke-width="1.1"/>
<rect x="305.5" y="498.68" width="9.3" height="36.82" fill="#dedede" stroke="#333" stroke-width="0.9"/>
<line x1="310.15" y1="498.68" x2="310.15" y2="497.34" stroke="#333" stroke-width="0.9"/>
<line x1="307.9" y1="497.34" x2="312.4" y2="497.34" stroke="#333" stroke-width="0.9"/>
<rect x="316.2" y="494.11" width="9.3" height="41.39" fill="#ffffff" stroke="#333" stroke-width="0.9"/>
<line x1="320.85" y1="494.11" x2="320.85" y2="491.96" stroke="#333" stroke-width="0.9"/>
<line x1="318.6" y1="491.96" x2="323.1" y2="491.96" stroke="#333" stroke-width="0.9"/>
<rect x="326.9" y="495.73" width="9.3" height="39.77" fill="#000000" stroke="#333" stroke-width="0.9"/>
<line x1="331.55" y1="495.73" x2="331.55" y2="495.19" stroke="#333" stroke-width="0.9"/>
<line x1="329.3" y1="495.19" x2="333.8" y2="495.19" stroke="#333" stroke-width="0.9"/>
<rect x="337.6" y="497.34" width="9.3" height="38.16" fill="url(#hs)" stroke="#333" stroke-width="0.9"/>
<line x1="342.25" y1="497.34" x2="342.25" y2="495.4" stroke="#333" stroke-width="0.9"/>
<line x1="340" y1="495.4" x2="344.5" y2="495.4" stroke="#333" stroke-width="0.9"/>
<rect x="348.3" y="497.88" width="9.3" height="37.62" fill="#9c9c9c" stroke="#333" stroke-width="0.9"/>
<line x1="352.95" y1="497.88" x2="352.95" y2="495.73" stroke="#333" stroke-width="0.9"/>
<line x1="350.7" y1="495.73" x2="355.2" y2="495.73" stroke="#333" stroke-width="0.9"/>
<rect x="359" y="496.26" width="9.3" height="39.24" fill="#fff" stroke="#333" stroke-width="0.9"/>
<line x1="362.35" y1="496.76" x2="362.35" y2="535" stroke="#8a8a8a" stroke-width="0.9"/>
<line x1="365.14" y1="496.76" x2="365.14" y2="535" stroke="#8a8a8a" stroke-width="0.9"/>
<line x1="363.65" y1="496.26" x2="363.65" y2="494.38" stroke="#333" stroke-width="0.9"/>
<line x1="361.4" y1="494.38" x2="365.9" y2="494.38" stroke="#333" stroke-width="0.9"/>
<rect x="369.7" y="496.26" width="9.3" height="39.24" fill="#c4c4c4" stroke="#333" stroke-width="0.9"/>
<line x1="374.35" y1="496.26" x2="374.35" y2="494.38" stroke="#333" stroke-width="0.9"/>
<line x1="372.1" y1="494.38" x2="376.6" y2="494.38" stroke="#333" stroke-width="0.9"/>
<rect x="380.4" y="495.4" width="9.3" height="40.1" fill="url(#dh)" stroke="#333" stroke-width="0.9"/>
<line x1="385.05" y1="495.4" x2="385.05" y2="493.04" stroke="#333" stroke-width="0.9"/>
<line x1="382.8" y1="493.04" x2="387.3" y2="493.04" stroke="#333" stroke-width="0.9"/>
<rect x="391.1" y="495.4" width="9.3" height="40.1" fill="#808080" stroke="#333" stroke-width="0.9"/>
<line x1="395.75" y1="495.4" x2="395.75" y2="493.79" stroke="#333" stroke-width="0.9"/>
<line x1="393.5" y1="493.79" x2="398" y2="493.79" stroke="#333" stroke-width="0.9"/>
<text x="353.35" y="546.5" font-size="9.2" text-anchor="middle" font-weight="normal" fill="#111">pGL3 basic</text>
<rect x="412.6" y="496.26" width="9.3" height="39.24" fill="#dedede" stroke="#333" stroke-width="0.9"/>
<line x1="417.25" y1="496.26" x2="417.25" y2="495.19" stroke="#333" stroke-width="0.9"/>
<line x1="415" y1="495.19" x2="419.5" y2="495.19" stroke="#333" stroke-width="0.9"/>
<rect x="423.3" y="497.5" width="9.3" height="38" fill="#ffffff" stroke="#333" stroke-width="0.9"/>
<line x1="427.95" y1="497.5" x2="427.95" y2="496.53" stroke="#333" stroke-width="0.9"/>
<line x1="425.7" y1="496.53" x2="430.2" y2="496.53" stroke="#333" stroke-width="0.9"/>
<rect x="434" y="438.21" width="9.3" height="97.29" fill="#000000" stroke="#333" stroke-width="0.9"/>
<line x1="438.65" y1="438.21" x2="438.65" y2="425.31" stroke="#333" stroke-width="0.9"/>
<line x1="436.4" y1="425.31" x2="440.9" y2="425.31" stroke="#333" stroke-width="0.9"/>
<rect x="444.7" y="497.01" width="9.3" height="38.49" fill="url(#hs)" stroke="#333" stroke-width="0.9"/>
<line x1="449.35" y1="497.01" x2="449.35" y2="495.51" stroke="#333" stroke-width="0.9"/>
<line x1="447.1" y1="495.51" x2="451.6" y2="495.51" stroke="#333" stroke-width="0.9"/>
<rect x="455.4" y="445.2" width="9.3" height="90.3" fill="#9c9c9c" stroke="#333" stroke-width="0.9"/>
<line x1="460.05" y1="445.2" x2="460.05" y2="443.05" stroke="#333" stroke-width="0.9"/>
<line x1="457.8" y1="443.05" x2="462.3" y2="443.05" stroke="#333" stroke-width="0.9"/>
<rect x="466.1" y="497.01" width="9.3" height="38.49" fill="#fff" stroke="#333" stroke-width="0.9"/>
<line x1="469.45" y1="497.51" x2="469.45" y2="535" stroke="#8a8a8a" stroke-width="0.9"/>
<line x1="472.24" y1="497.51" x2="472.24" y2="535" stroke="#8a8a8a" stroke-width="0.9"/>
<line x1="470.75" y1="497.01" x2="470.75" y2="495.51" stroke="#333" stroke-width="0.9"/>
<line x1="468.5" y1="495.51" x2="473" y2="495.51" stroke="#333" stroke-width="0.9"/>
<rect x="476.8" y="459.18" width="9.3" height="76.32" fill="#c4c4c4" stroke="#333" stroke-width="0.9"/>
<line x1="481.45" y1="459.18" x2="481.45" y2="453.8" stroke="#333" stroke-width="0.9"/>
<line x1="479.2" y1="453.8" x2="483.7" y2="453.8" stroke="#333" stroke-width="0.9"/>
<rect x="487.5" y="497.01" width="9.3" height="38.49" fill="url(#dh)" stroke="#333" stroke-width="0.9"/>
<line x1="492.15" y1="497.01" x2="492.15" y2="495.99" stroke="#333" stroke-width="0.9"/>
<line x1="489.9" y1="495.99" x2="494.4" y2="495.99" stroke="#333" stroke-width="0.9"/>
<rect x="498.2" y="458.1" width="9.3" height="77.4" fill="#808080" stroke="#333" stroke-width="0.9"/>
<line x1="502.85" y1="458.1" x2="502.85" y2="454.34" stroke="#333" stroke-width="0.9"/>
<line x1="500.6" y1="454.34" x2="505.1" y2="454.34" stroke="#333" stroke-width="0.9"/>
<text x="460.45" y="546.5" font-size="9.2" text-anchor="middle" font-weight="normal" fill="#111">CCR5-pB3</text>
<rect x="309.5" y="397" width="16" height="4" fill="#dedede" stroke="#333" stroke-width="0.9"/>
<text x="328" y="401.6" font-size="7.4" text-anchor="start" font-weight="normal" fill="#111">-</text>
<rect x="309.5" y="406.8" width="16" height="4" fill="#ffffff" stroke="#333" stroke-width="0.9"/>
<text x="328" y="411.4" font-size="7.4" text-anchor="start" font-weight="normal" fill="#111">empty vector</text>
<rect x="309.5" y="416.5" width="16" height="4" fill="#000000" stroke="#333" stroke-width="0.9"/>
<text x="328" y="421.1" font-size="7.4" text-anchor="start" font-weight="normal" fill="#111">CREB-1</text>
<rect x="372.8" y="396.4" width="16" height="4" fill="url(#hs)" stroke="#333" stroke-width="0.9"/>
<text x="391.3" y="401" font-size="7.4" text-anchor="start" font-weight="normal" fill="#111">CBP</text>
<rect x="372.8" y="406.3" width="16" height="4" fill="#9c9c9c" stroke="#333" stroke-width="0.9"/>
<text x="391.3" y="410.9" font-size="7.4" text-anchor="start" font-weight="normal" fill="#111">CREB-1 + CBP</text>
<rect x="372.8" y="416.2" width="16" height="4" fill="#fff" stroke="#333" stroke-width="0.9"/>
<line x1="375.47" y1="416.2" x2="375.47" y2="420.2" stroke="#777" stroke-width="0.8"/>
<line x1="378.13" y1="416.2" x2="378.13" y2="420.2" stroke="#777" stroke-width="0.8"/>
<line x1="380.8" y1="416.2" x2="380.8" y2="420.2" stroke="#777" stroke-width="0.8"/>
<line x1="383.47" y1="416.2" x2="383.47" y2="420.2" stroke="#777" stroke-width="0.8"/>
<line x1="386.13" y1="416.2" x2="386.13" y2="420.2" stroke="#777" stroke-width="0.8"/>
<text x="391.3" y="420.8" font-size="7.4" text-anchor="start" font-weight="normal" fill="#111">p300</text>
<rect x="443.8" y="396.8" width="16" height="4" fill="#c4c4c4" stroke="#333" stroke-width="0.9"/>
<text x="462.3" y="401.4" font-size="7.4" text-anchor="start" font-weight="normal" fill="#111">CREB-1 + p300</text>
<rect x="443.8" y="406.5" width="16" height="4" fill="url(#dh)" stroke="#333" stroke-width="0.9"/>
<text x="462.3" y="411.1" font-size="7.4" text-anchor="start" font-weight="normal" fill="#111">P/CAF</text>
<rect x="443.8" y="417" width="16" height="4" fill="#808080" stroke="#333" stroke-width="0.9"/>
<text x="462.3" y="421.6" font-size="7.4" text-anchor="start" font-weight="normal" fill="#111">CREB-1 + P/CAF</text>
</svg>
</body></html>
